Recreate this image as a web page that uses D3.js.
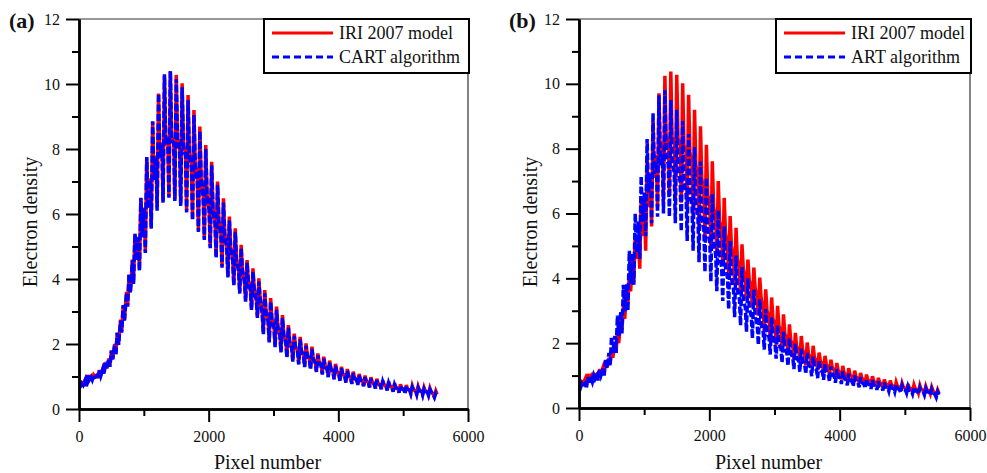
<!DOCTYPE html>
<html>
<head>
<meta charset="utf-8">
<script src="https://cdn.jsdelivr.net/npm/d3@7"></script>
<style>
  body { margin: 0; background: #fff; }
  svg text { font-family: "Liberation Serif", "Times New Roman", serif; fill: #111; }
</style>
</head>
<body>
<svg id="chart" width="987" height="473"></svg>
<script>
// pixels per image column (the profile repeats once per column)
var pixelStep = 91;

var yMajor = [0, 2, 4, 6, 8, 10, 12];
var yMinor = [1, 3, 5, 7, 9, 11];
var xMajor = [0, 2000, 4000, 6000];
var xMinor = [1000, 3000, 5000];

// IRI 2007 model, per column: top of spike, bottom of spike, middle band
var iriHigh = [0.8, 1.05, 1.05, 1.2, 1.41, 1.76, 2.33, 3.14, 4.12, 5.35,
  6.48, 7.71, 8.84, 9.71, 10.25, 10.38, 10.28, 10.02, 9.66, 9.2,
  8.69, 8.12, 7.61, 7.0, 6.48, 5.92, 5.56, 5.05, 4.58, 4.33,
  4.02, 3.66, 3.41, 3.15, 2.89, 2.58, 2.32, 2.22, 2.02, 1.92,
  1.71, 1.61, 1.49, 1.39, 1.3, 1.23, 1.15, 1.08, 1.03, 0.98,
  0.93, 0.88, 0.85, 0.79, 0.76, 0.74, 0.71, 0.69, 0.66, 0.64,
  0.55];
var iriLow = [0.72, 0.7, 0.93, 0.95, 1.1, 1.35, 1.7, 2.4, 3.2, 3.9,
  4.3, 4.85, 5.6, 6.2, 6.4, 6.55, 6.45, 6.33, 6.12, 5.87,
  5.5, 5.25, 5.0, 4.7, 4.4, 4.1, 3.85, 3.6, 3.35, 3.1,
  2.85, 2.35, 2.1, 1.95, 1.78, 1.62, 1.5, 1.4, 1.32, 1.25,
  1.17, 1.09, 1.01, 0.94, 0.88, 0.83, 0.79, 0.76, 0.72, 0.68,
  0.65, 0.63, 0.59, 0.55, 0.52, 0.5, 0.49, 0.47, 0.45, 0.44,
  0.38];
var iriMid = [0.75, 0.9, 1.0, 1.05, 1.25, 1.55, 2.0, 2.75, 3.6, 4.6,
  5.3, 6.2, 7.1, 7.8, 8.2, 8.3, 8.3, 8.1, 7.9, 7.5,
  7.1, 6.6, 6.2, 5.8, 5.4, 5.0, 4.6, 4.3, 3.95, 3.7,
  3.4, 3.0, 2.75, 2.55, 2.3, 2.1, 1.9, 1.8, 1.65, 1.55,
  1.45, 1.35, 1.25, 1.15, 1.08, 1.02, 0.96, 0.91, 0.86, 0.82,
  0.78, 0.75, 0.71, 0.67, 0.64, 0.61, 0.59, 0.57, 0.55, 0.53,
  0.45];

// CART algorithm
var cartHigh = [0.78, 1.03, 1.05, 1.22, 1.45, 1.8, 2.35, 3.2, 4.15, 5.4,
  6.5, 7.75, 8.85, 9.7, 10.3, 10.4, 10.15, 9.9, 9.5, 9.05,
  8.55, 8.0, 7.5, 6.9, 6.35, 5.8, 5.45, 4.95, 4.5, 4.22,
  3.92, 3.56, 3.3, 3.05, 2.8, 2.5, 2.25, 2.14, 1.95, 1.85,
  1.65, 1.55, 1.43, 1.33, 1.25, 1.18, 1.1, 1.03, 0.98, 0.93,
  0.88, 0.84, 0.8, 0.75, 0.72, 0.7, 0.67, 0.65, 0.62, 0.6,
  0.5];
var cartLow = [0.7, 0.68, 0.9, 0.93, 1.08, 1.3, 1.65, 2.35, 3.15, 3.85,
  4.25, 4.8, 5.55, 6.1, 6.35, 6.5, 6.4, 6.25, 6.05, 5.8,
  5.45, 5.2, 4.95, 4.65, 4.35, 4.05, 3.8, 3.55, 3.3, 3.05,
  2.8, 2.3, 2.05, 1.9, 1.74, 1.58, 1.46, 1.37, 1.29, 1.22,
  1.14, 1.06, 0.98, 0.91, 0.86, 0.81, 0.77, 0.74, 0.7, 0.66,
  0.63, 0.61, 0.57, 0.53, 0.5, 0.48, 0.47, 0.45, 0.43, 0.42,
  0.36];
var cartMid = [0.73, 0.88, 0.98, 1.03, 1.23, 1.52, 1.97, 2.72, 3.57, 4.57,
  5.28, 6.17, 7.05, 7.75, 8.15, 8.25, 8.2, 8.0, 7.8, 7.42,
  7.02, 6.52, 6.13, 5.72, 5.33, 4.94, 4.55, 4.24, 3.9, 3.65,
  3.35, 2.95, 2.7, 2.5, 2.26, 2.06, 1.86, 1.76, 1.62, 1.52,
  1.42, 1.32, 1.22, 1.12, 1.05, 1.0, 0.94, 0.89, 0.84, 0.8,
  0.76, 0.73, 0.69, 0.65, 0.62, 0.6, 0.58, 0.56, 0.54, 0.52,
  0.44];

// ART algorithm
var artHigh = [0.75, 0.95, 1.0, 1.2, 1.5, 2.2, 2.85, 3.8, 4.85, 6.0,
  7.15, 8.3, 9.1, 9.65, 9.8, 9.5, 9.2, 8.85, 8.45, 8.05,
  7.6, 7.1, 6.6, 6.1, 5.6, 5.15, 4.7, 4.35, 4.0, 3.65,
  3.35, 3.05, 2.8, 2.55, 2.35, 2.15, 1.98, 1.83, 1.7, 1.58,
  1.47, 1.37, 1.28, 1.2, 1.13, 1.06, 1.0, 0.95, 0.9, 0.86,
  0.82, 0.78, 0.75, 0.72, 0.69, 0.66, 0.64, 0.62, 0.6, 0.58,
  0.5];
var artLow = [0.62, 0.6, 0.8, 0.85, 1.0, 1.3, 1.7, 2.3, 3.0, 3.8,
  4.6, 5.3, 5.7, 5.9, 6.0, 5.9, 5.7, 5.45, 5.15, 4.85,
  4.5, 4.2, 3.9, 3.6, 3.3, 3.05, 2.8, 2.55, 2.35, 2.15,
  1.95, 1.8, 1.65, 1.52, 1.4, 1.3, 1.2, 1.12, 1.05, 0.98,
  0.92, 0.87, 0.82, 0.78, 0.74, 0.7, 0.67, 0.64, 0.61, 0.59,
  0.56, 0.54, 0.52, 0.5, 0.48, 0.46, 0.44, 0.43, 0.41, 0.4,
  0.33];
var artMid = [0.68, 0.76, 0.89, 1.01, 1.22, 1.7, 2.22, 2.98, 3.83, 4.79,
  5.75, 6.65, 7.23, 7.59, 7.71, 7.52, 7.28, 6.98, 6.63, 6.29,
  5.9, 5.51, 5.12, 4.73, 4.34, 4.0, 3.66, 3.36, 3.09, 2.83,
  2.58, 2.36, 2.17, 1.98, 1.83, 1.68, 1.55, 1.44, 1.34, 1.25,
  1.17, 1.1, 1.03, 0.97, 0.92, 0.86, 0.82, 0.78, 0.74, 0.71,
  0.68, 0.65, 0.62, 0.6, 0.57, 0.55, 0.53, 0.52, 0.5, 0.48,
  0.41];

var serif = '"Liberation Serif", "Times New Roman", serif';

var svg = d3.select("#chart");
svg.append("rect").attr("width", 987).attr("height", 473).attr("fill", "#fff");

// turn the per-column readings into a pixel-number series
function columnPoints(low, high, mid) {
  var pts = [];
  for (var k = 0; k < high.length; k++) {
    var x0 = k * pixelStep;
    pts.push([x0 + 5, mid[k]]);
    pts.push([x0 + 22, low[k]]);
    pts.push([x0 + 44, high[k]]);
    pts.push([x0 + 64, mid[k]]);
  }
  return pts;
}

function drawPanel(p) {
  var x = d3.scaleLinear().domain([0, 6000]).range([p.left, p.right]);
  var y = d3.scaleLinear().domain([0, 12]).range([p.bottom, p.top]);
  var g = svg.append("g");

  // thin top / right frame
  g.append("path")
    .attr("d", "M" + p.left + "," + p.top + "H" + p.right + "V" + p.bottom)
    .attr("fill", "none")
    .attr("stroke", "#333")
    .attr("stroke-width", 1.2);

  var line = d3.line()
    .x(function(d) { return x(d[0]); })
    .y(function(d) { return y(d[1]); });

  g.append("path")
    .datum(columnPoints(iriLow, iriHigh, iriMid))
    .attr("d", line)
    .attr("fill", "none")
    .attr("stroke", "#ff0000")
    .attr("stroke-width", 3.5);

  g.append("path")
    .datum(columnPoints(p.low, p.high, p.mid))
    .attr("d", line)
    .attr("fill", "none")
    .attr("stroke", "#0000ff")
    .attr("stroke-width", 3.5)
    .attr("stroke-dasharray", "7,2.5");

  // axes
  g.append("g")
    .attr("transform", "translate(" + p.left + ",0)")
    .call(d3.axisLeft(y).tickValues(yMajor).tickSize(13).tickSizeOuter(0).tickPadding(6).tickFormat(d3.format("d")));
  g.append("g")
    .attr("transform", "translate(" + p.left + ",0)")
    .call(d3.axisLeft(y).tickValues(yMinor).tickSize(7).tickSizeOuter(0).tickFormat(""));
  g.append("g")
    .attr("transform", "translate(0," + p.bottom + ")")
    .call(d3.axisBottom(x).tickValues(xMajor).tickSize(13).tickSizeOuter(0).tickPadding(9).tickFormat(d3.format("d")));
  g.append("g")
    .attr("transform", "translate(0," + p.bottom + ")")
    .call(d3.axisBottom(x).tickValues(xMinor).tickSize(7).tickSizeOuter(0).tickFormat(""));

  g.selectAll("g").attr("font-family", serif);
  g.selectAll(".domain").attr("stroke", "#000").attr("stroke-width", 2.5);
  g.selectAll(".tick line").attr("stroke", "#000").attr("stroke-width", 2);
  g.selectAll(".tick text")
    .style("font-family", serif)
    .style("font-size", "16px")
    .attr("fill", "#111");

  // titles
  g.append("text")
    .attr("x", (p.left + p.right) / 2 - 6)
    .attr("y", 469)
    .attr("text-anchor", "middle")
    .style("font-size", "20px")
    .text("Pixel number");
  g.append("text")
    .attr("transform", "translate(" + (p.left - 42) + "," + 222 + ") rotate(-90)")
    .attr("text-anchor", "middle")
    .style("font-size", "20px")
    .text("Electron density");
  g.append("text")
    .attr("x", p.left - 70)
    .attr("y", 28)
    .style("font-size", "22px")
    .style("font-weight", "bold")
    .text(p.tag);

  // legend
  var lg = g.append("g").attr("transform", "translate(" + (p.right - p.legendWidth + 1) + "," + p.top + ")");
  lg.append("rect")
    .attr("width", p.legendWidth)
    .attr("height", 54)
    .attr("fill", "#fff")
    .attr("stroke", "#000")
    .attr("stroke-width", 2);
  lg.append("line")
    .attr("x1", 8).attr("x2", 69).attr("y1", 14).attr("y2", 14)
    .attr("stroke", "#ff0000").attr("stroke-width", 3);
  lg.append("line")
    .attr("x1", 8).attr("x2", 69).attr("y1", 38).attr("y2", 38)
    .attr("stroke", "#0000ff").attr("stroke-width", 3)
    .attr("stroke-dasharray", "7,4");
  lg.append("text").attr("x", 75).attr("y", 20).style("font-size", "18px").text("IRI 2007 model");
  lg.append("text").attr("x", 75).attr("y", 44).style("font-size", "18px").text(p.name);
}

drawPanel({ tag: "(a)", name: "CART algorithm", left: 79, right: 468, top: 19, bottom: 409,
  legendWidth: 205, high: cartHigh, low: cartLow, mid: cartMid });
drawPanel({ tag: "(b)", name: "ART algorithm", left: 579, right: 970, top: 19, bottom: 408,
  legendWidth: 195, high: artHigh, low: artLow, mid: artMid });
</script>
</body>
</html>
